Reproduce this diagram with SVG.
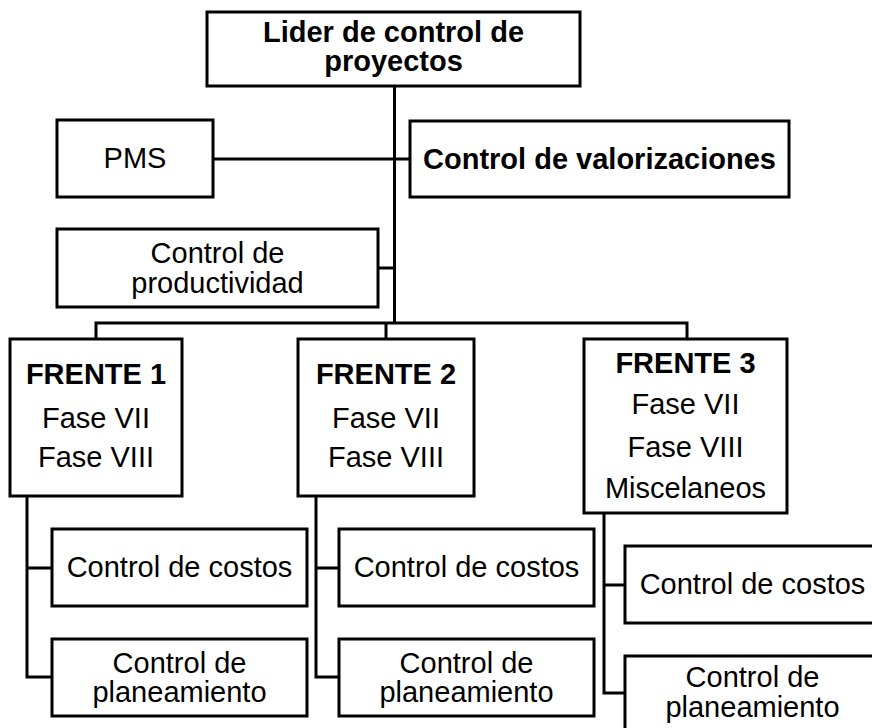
<svg xmlns="http://www.w3.org/2000/svg" width="872" height="728" viewBox="0 0 872 728">
<style>
.box{fill:#fff;stroke:#000;stroke-width:3}
.ln{fill:none;stroke:#000;stroke-width:3}
text{font-family:"Liberation Sans",Arial,sans-serif;font-size:29px;fill:#000;text-anchor:middle}
.b{font-weight:bold}
</style>
<rect width="872" height="728" fill="#fff"/>
<g id="connectors">
<path class="ln" d="M394.5 86V323"/>
<path class="ln" d="M213 159H410"/>
<path class="ln" d="M378 268H394.5"/>
<path class="ln" d="M96 339V323H687V339"/>
<path class="ln" d="M386 323V339"/>
<path class="ln" d="M27 496V677H52M27 568H52"/>
<path class="ln" d="M316 496V677H339M316 568H339"/>
<path class="ln" d="M604 513V693H625M604 585H625"/>
</g>
<g id="lider"><rect class="box" x="207" y="12" width="373" height="74"/><text class="b" x="393.5" y="42">Lider de control de</text><text class="b" x="393.5" y="71">proyectos</text></g>
<g id="pms"><rect class="box" x="57" y="120" width="156" height="77"/><text x="135" y="168">PMS</text></g>
<g id="valorizaciones"><rect class="box" x="410" y="121" width="379" height="76"/><text class="b" x="599.5" y="169">Control de valorizaciones</text></g>
<g id="productividad"><rect class="box" x="57" y="229" width="321" height="78"/><text x="217.5" y="263">Control de</text><text x="217.5" y="293">productividad</text></g>
<g id="frente1"><rect class="box" x="10" y="339" width="172" height="157"/><text class="b" x="96" y="384">FRENTE 1</text><text x="96" y="428">Fase VII</text><text x="96" y="467">Fase VIII</text></g>
<g id="frente2"><rect class="box" x="298" y="339" width="176" height="157"/><text class="b" x="386" y="384">FRENTE 2</text><text x="386" y="428">Fase VII</text><text x="386" y="467">Fase VIII</text></g>
<g id="frente3"><rect class="box" x="584" y="339" width="203" height="174"/><text class="b" x="685.5" y="373">FRENTE 3</text><text x="685.5" y="414">Fase VII</text><text x="685.5" y="457">Fase VIII</text><text x="685.5" y="498">Miscelaneos</text></g>
<g id="costos1"><rect class="box" x="52" y="529" width="255" height="77"/><text x="179.5" y="577">Control de costos</text></g>
<g id="planeamiento1"><rect class="box" x="52" y="639" width="255" height="77"/><text x="179.5" y="673">Control de</text><text x="179.5" y="702">planeamiento</text></g>
<g id="costos2"><rect class="box" x="339" y="529" width="255" height="77"/><text x="466.5" y="577">Control de costos</text></g>
<g id="planeamiento2"><rect class="box" x="339" y="639" width="255" height="77"/><text x="466.5" y="673">Control de</text><text x="466.5" y="702">planeamiento</text></g>
<g id="costos3"><rect class="box" x="625" y="546" width="255" height="77"/><text x="752.5" y="594">Control de costos</text></g>
<g id="planeamiento3"><rect class="box" x="625" y="656" width="255" height="80"/><text x="752.5" y="687">Control de</text><text x="752.5" y="717">planeamiento</text></g>
</svg>
